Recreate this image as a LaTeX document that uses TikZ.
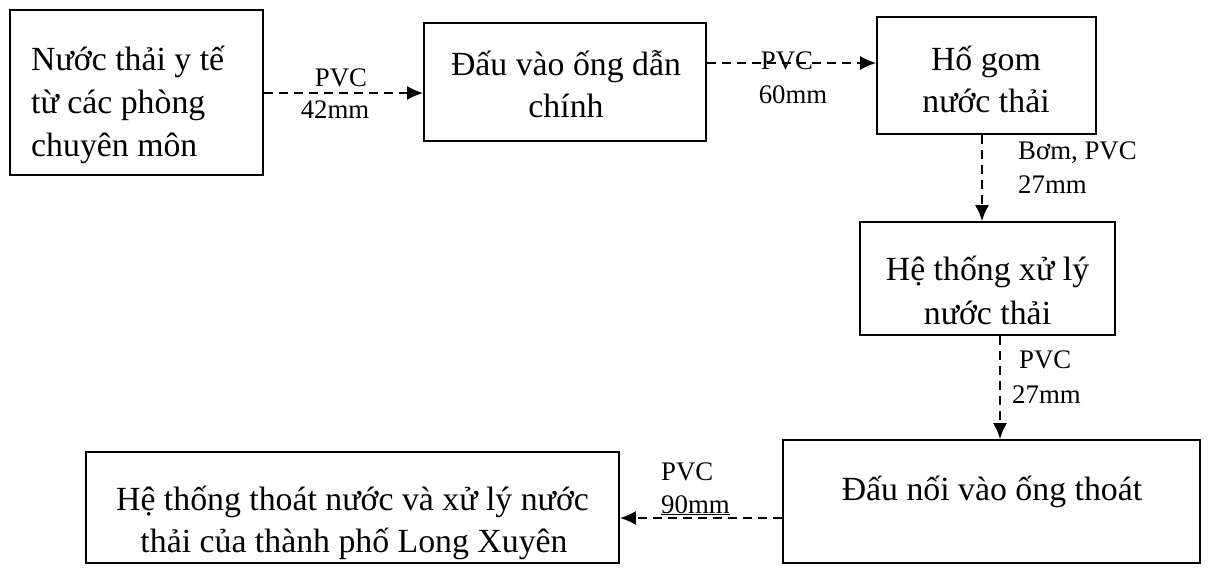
\documentclass[tikz,border=0pt]{standalone}
\usepackage{fontspec}
\setmainfont{Liberation Serif}
\usetikzlibrary{arrows.meta}
\tikzset{
  box/.style={draw, line width=1.6pt, inner sep=0pt},
  boxtxt/.style={inner sep=0pt, font=\fontsize{33.8}{40}\selectfont},
  lbl/.style={inner sep=0pt, font=\fontsize{26.8}{30}\selectfont},
  flow/.style={line width=2.2pt, dash pattern=on 9pt off 6pt, -{Latex[length=16pt,width=14pt]}}
}
\begin{document}
\begin{tikzpicture}[x=1pt,y=-1pt]
\useasboundingbox (0,0) rectangle (1229,568);
% boxes
\node[box, minimum width=253pt, minimum height=165pt] (b1) at (136.5,92.5) {};
\node[box, minimum width=282pt, minimum height=118pt] (b2) at (565,82) {};
\node[box, minimum width=219pt, minimum height=117pt] (b3) at (986.5,75.5) {};
\node[box, minimum width=255pt, minimum height=113pt] (b4) at (987.5,278.5) {};
\node[box, minimum width=417pt, minimum height=123pt] (b5) at (991.5,501.5) {};
\node[box, minimum width=533pt, minimum height=111pt] (b6) at (352.5,507.5) {};
% box texts
\node[boxtxt, anchor=base west] (t1a) at (31,70) {Nước thải y tế};
\node[boxtxt, anchor=base west] (t1b) at (31,113) {từ các phòng};
\node[boxtxt, anchor=base west] (t1c) at (31,156) {chuyên môn};
\node[boxtxt, anchor=base] (t2a) at (566,75) {Đấu vào ống dẫn};
\node[boxtxt, anchor=base] (t2b) at (566,117) {chính};
\node[boxtxt, anchor=base] (t3a) at (986,70) {Hố gom};
\node[boxtxt, anchor=base] (t3b) at (986,112) {nước thải};
\node[boxtxt, anchor=base] (t4a) at (987.5,280) {Hệ thống xử lý};
\node[boxtxt, anchor=base] (t4b) at (987.5,324) {nước thải};
\node[boxtxt, anchor=base] (t5a) at (992,500) {Đấu nối vào ống thoát};
\node[boxtxt, anchor=base] (t6a) at (352.5,510) {Hệ thống thoát nước và xử lý nước};
\node[boxtxt, anchor=base] (t6b) at (354,552) {thải của thành phố Long Xuyên};
% connector helper coordinates
\coordinate (a1) at (0,93);
\coordinate (a2) at (0,63);
\coordinate (a3) at (982,0);
\coordinate (a4) at (1000,0);
\coordinate (a5) at (0,518);
% connectors
\draw[flow] (b1.east |- a1) -- (b2.west |- a1);
\draw[flow] (b2.east |- a2) -- (b3.west |- a2);
\draw[flow] (a3 |- b3.south) -- (a3 |- b4.north);
\draw[flow] (a4 |- b4.south) -- (a4 |- b5.north);
\draw[flow] (b5.west |- a5) -- (b6.east |- a5);
% labels
\node[lbl, anchor=base] (l1a) at (341,86) {PVC};
\node[lbl, anchor=base] (l1b) at (335,118) {42mm};
\node[lbl, anchor=base] (l2a) at (787,69) {PVC};
\node[lbl, anchor=base] (l2b) at (793,103) {60mm};
\node[lbl, anchor=base west] (l3a) at (1018,159) {Bơm, PVC};
\node[lbl, anchor=base west] (l3b) at (1018,193) {27mm};
\node[lbl, anchor=base west] (l4a) at (1019,368) {PVC};
\node[lbl, anchor=base west] (l4b) at (1012,403) {27mm};
\node[lbl, anchor=base west] (l5a) at (661,480) {PVC};
\node[lbl, anchor=base west] (l5b) at (661,513) {\underline{90mm}};
\end{tikzpicture}
\end{document}
